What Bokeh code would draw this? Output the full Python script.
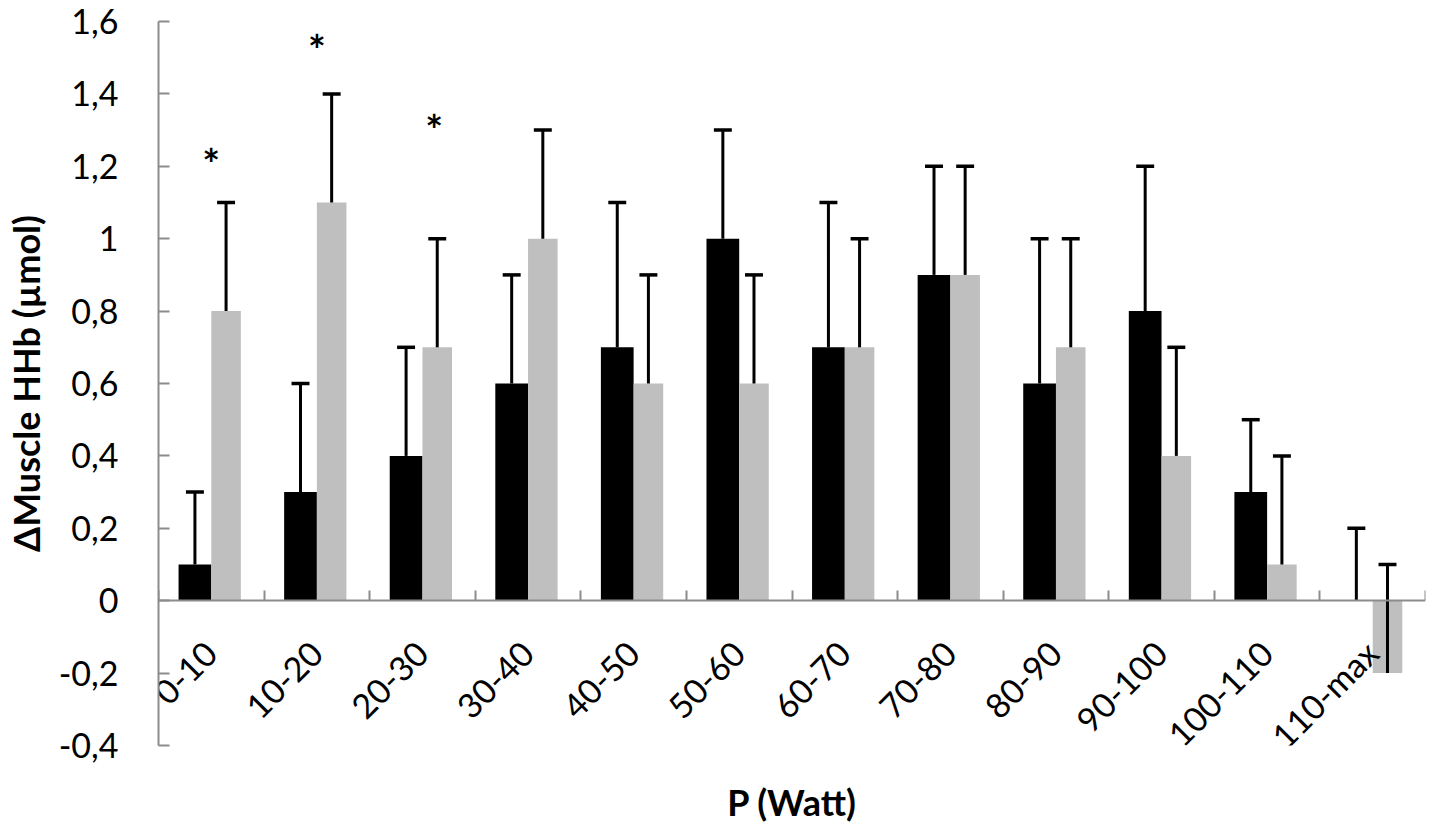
import math
from bokeh.plotting import figure
from bokeh.models import (Range1d, LinearAxis, FixedTicker,
                          CustomJSTickFormatter, ColumnDataSource)
from bokeh.core.properties import value
from bokeh.embed import file_html
from bokeh.resources import INLINE

# ---------------- data ----------------
categories = ["0-10", "10-20", "20-30", "30-40", "40-50", "50-60",
              "60-70", "70-80", "80-90", "90-100", "100-110", "110-max"]
black_vals = [0.1, 0.3, 0.4, 0.6, 0.7, 1.0, 0.7, 0.9, 0.6, 0.8, 0.3, 0.0]
black_err = [0.2, 0.3, 0.3, 0.3, 0.4, 0.3, 0.4, 0.3, 0.4, 0.4, 0.2, 0.2]
gray_vals = [0.8, 1.1, 0.7, 1.0, 0.6, 0.6, 0.7, 0.9, 0.7, 0.4, 0.1, -0.2]
gray_err = [0.3, 0.3, 0.3, 0.3, 0.3, 0.3, 0.3, 0.3, 0.3, 0.3, 0.3, 0.3]

star_cats = ["0-10", "10-20", "20-30"]
star_y = [1.235, 1.55, 1.33]
star_off = [0.0, 0.0, 0.11]

y_ticks = [-0.4, -0.2, 0, 0.2, 0.4, 0.6, 0.8, 1, 1.2, 1.4, 1.6]
y_tick_labels = ["-0,4", "-0,2", "0", "0,2", "0,4", "0,6", "0,8", "1",
                 "1,2", "1,4", "1,6"]

y_title = "\u0394Muscle HHb (\u00b5mol)"
x_title = "P (Watt)"

# ---------------- style ----------------
FONT = "Lato"
AXIS_GRAY = "#8c8c8c"
BAR_GRAY = "#bfbfbf"
B_OFF, B_W = -0.155, 0.31
G_OFF, G_W = 0.14, 0.28
CAP = 0.085
LABEL_SHIFT = -0.01

n = len(categories)
centers = [i + 0.5 for i in range(n)]
cidx = {c: i for i, c in enumerate(categories)}

src = ColumnDataSource(dict(
    xb=[c + B_OFF for c in centers],
    xg=[c + G_OFF for c in centers],
    xb0=[c + B_OFF - CAP for c in centers],
    xb1=[c + B_OFF + CAP for c in centers],
    xg0=[c + G_OFF - CAP for c in centers],
    xg1=[c + G_OFF + CAP for c in centers],
    bv=black_vals,
    btop=[v + e for v, e in zip(black_vals, black_err)],
    gv=gray_vals,
    gtop=[v + e for v, e in zip(gray_vals, gray_err)],
))

p = figure(x_range=Range1d(0, n), y_range=Range1d(-0.4, 1.6),
           width=1432, height=826, output_backend="svg", toolbar_location=None,
           min_border_left=152, min_border_right=7, min_border_top=21,
           min_border_bottom=79)
p.outline_line_color = None
p.xgrid.visible = False
p.ygrid.visible = False
p.background_fill_color = "white"

# bars
p.vbar(x="xb", top="bv", bottom=0, width=B_W,
       fill_color="black", line_color=None, source=src)
p.vbar(x="xg", top="gv", bottom=0, width=G_W,
       fill_color=BAR_GRAY, line_color=None, source=src)

# error bars (upper only)
for x, x0, x1, lo, hi in [("xb", "xb0", "xb1", "bv", "btop"),
                          ("xg", "xg0", "xg1", "gv", "gtop")]:
    p.segment(x0=x, x1=x, y0=lo, y1=hi, line_color="black", line_width=3, source=src)
    p.segment(x0=x0, x1=x1, y0=hi, y1=hi, line_color="black", line_width=3.5, source=src)

# significance asterisks
star_src = ColumnDataSource(dict(
    x=[centers[cidx[c]] + o for c, o in zip(star_cats, star_off)],
    y=[v - 0.03 for v in star_y],
    t=["*"] * len(star_cats)))
p.text(x="x", y="y", text="t", source=star_src,
       text_font=value(FONT), text_font_size="42px", text_font_style="bold",
       text_align="center", text_baseline="middle", text_color="black")

# category label axis at y = 0
label_ticks = [c + LABEL_SHIFT for c in centers]
xa = p.xaxis[0]
xa.fixed_location = 0
xa.ticker = FixedTicker(ticks=label_ticks)
xa.major_label_overrides = dict(zip(label_ticks, categories))
xa.axis_line_color = None
xa.major_tick_line_color = None
xa.minor_tick_line_color = None
xa.major_label_orientation = math.pi / 4
xa.major_label_standoff = 40
xa.major_label_text_font = FONT
xa.major_label_text_font_size = "34px"
xa.major_label_text_color = "black"

# axis line with category boundary ticks
bnd = LinearAxis(fixed_location=0,
                 ticker=FixedTicker(ticks=list(range(n + 1))),
                 major_tick_in=10, major_tick_out=0,
                 major_tick_line_color=AXIS_GRAY, major_tick_line_width=2,
                 axis_line_color=AXIS_GRAY, axis_line_width=2,
                 minor_tick_line_color=None,
                 formatter=CustomJSTickFormatter(code="return ''"))
p.add_layout(bnd, "below")

# x axis title, carried by a bare axis under the plot area
xt = LinearAxis(ticker=FixedTicker(ticks=[]), axis_line_color=None,
                major_tick_out=0, major_tick_in=0, minor_tick_out=0, minor_tick_in=0,
                major_tick_line_color=None, minor_tick_line_color=None,
                major_label_standoff=0,
                axis_label=x_title, axis_label_text_font=FONT,
                axis_label_text_font_size="36px", axis_label_text_font_style="bold",
                axis_label_text_color="black", axis_label_standoff=34)
p.add_layout(xt, "below")

# y axis
ya = p.yaxis[0]
ya.ticker = FixedTicker(ticks=y_ticks)
ya.major_label_overrides = dict(zip(y_ticks, y_tick_labels))
ya.major_tick_in = 11
ya.major_tick_out = 0
ya.minor_tick_line_color = None
ya.axis_line_color = AXIS_GRAY
ya.axis_line_width = 2
ya.major_tick_line_color = AXIS_GRAY
ya.major_tick_line_width = 2
ya.major_label_standoff = 40
ya.major_label_text_font = FONT
ya.major_label_text_font_size = "34px"
ya.major_label_text_color = "black"
ya.axis_label = y_title
ya.axis_label_text_font = FONT
ya.axis_label_text_font_size = "36px"
ya.axis_label_text_font_style = "bold"
ya.axis_label_text_color = "black"
ya.axis_label_standoff = 8

open("out.html", "w").write(file_html(p, INLINE))
